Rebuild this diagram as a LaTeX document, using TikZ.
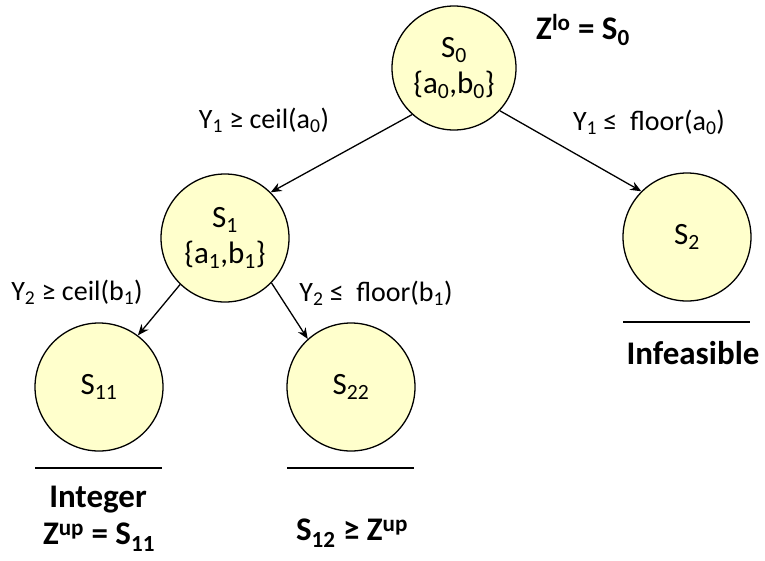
\documentclass[tikz,border=0pt]{standalone}
\usepackage{fontspec}
\setmainfont{Carlito}
\usetikzlibrary{arrows.meta}
\definecolor{nodefill}{HTML}{FFFFCC}
\newcommand{\dn}[1]{\textsubscript{#1}}
\newcommand{\up}[1]{\textsuperscript{#1}}
\begin{document}
\begin{tikzpicture}[x=1pt,y=-1pt,
  state/.style={circle,draw=black,fill=nodefill,line width=1.3pt,inner sep=0pt,
    minimum size=#1,align=center,font=\fontsize{31}{36}\selectfont},
  state/.default=128pt,
  lab/.style={inner sep=0pt,font=\fontsize{28}{32}\selectfont},
  blab/.style={inner sep=0pt,font=\fontsize{33}{38}\selectfont\bfseries,align=center},
  conn/.style={line width=1.3pt,-{Stealth[length=11pt,width=9pt]}},
  bar/.style={line width=2.5pt}]
\useasboundingbox (0,0) rectangle (765,560);
\node[state=124pt] (S0) at (454,68) {S\dn{0}\\\{a\dn{0},b\dn{0}\}};
\node[state] (S1) at (225,238) {S\dn{1}\\\{a\dn{1},b\dn{1}\}};
\node[state] (S2) at (687,237) {S\dn{2}};
\node[state] (S11) at (99,387) {S\dn{11}};
\node[state] (S22) at (351,387) {S\dn{22}};
\draw[conn] (S0.228) -- (S1.45);
\draw[conn] (S0.317) -- (S2.135);
\draw[conn] (S1.226) -- (S11.53);
\draw[conn] (S1.316) -- (S22.132);
\node[lab] (l1) at (264,120) {Y\dn{1} ≥ ceil(a\dn{0})};
\node[lab] (l2) at (649,122) {Y\dn{1} ≤\ \ floor(a\dn{0})};
\node[lab] (l3) at (77,292) {Y\dn{2} ≥ ceil(b\dn{1})};
\node[lab] (l4) at (376,293) {Y\dn{2} ≤\ \ floor(b\dn{1})};
\node[blab] (zlo) at (583,30) {Z\up{lo} = S\dn{0}};
\coordinate (b1l) at (35,468); \coordinate (b1r) at (162,468);
\coordinate (b2l) at (287,468); \coordinate (b2r) at (414,468);
\coordinate (b3l) at (623,322); \coordinate (b3r) at (750,322);
\draw[bar] (b1l) -- (b1r);
\draw[bar] (b2l) -- (b2r);
\draw[bar] (b3l) -- (b3r);
\node[blab] (inf) at (693,353) {Infeasible};
\node[blab] (int) at (98,500) {Integer};
\node[blab] (zup) at (99,537) {Z\up{up} = S\dn{11}};
\node[blab] (s12) at (352,533) {S\dn{12} ≥ Z\up{up}};
\end{tikzpicture}
\end{document}
